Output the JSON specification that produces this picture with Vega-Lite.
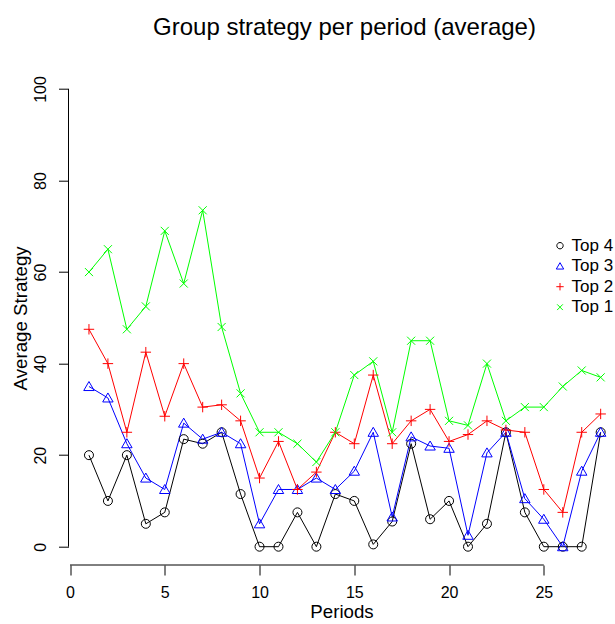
{
  "$schema": "https://vega.github.io/schema/vega-lite/v6.json",
  "autosize": {"type": "none"},
  "padding": {"left": 68.5, "top": 70.7, "right": 0, "bottom": 59},
  "width": 546,
  "height": 494.3,
  "background": "white",
  "title": {
    "text": "Group strategy per period (average)",
    "font": "Liberation Sans",
    "fontSize": 24,
    "fontWeight": "normal",
    "color": "black",
    "anchor": "middle",
    "frame": "group",
    "baseline": "alphabetic",
    "offset": 12,
    "dx": 3
  },
  "config": {
    "view": {"stroke": null},
    "font": "Liberation Sans",
    "legend": {"labelFontSize": 17, "labelFont": "Liberation Sans", "labelColor": "black"}
  },
  "datasets": {
    "strategy": [
      {"period": 1, "group": "Top 4", "value": 20},
      {"period": 2, "group": "Top 4", "value": 10},
      {"period": 3, "group": "Top 4", "value": 20},
      {"period": 4, "group": "Top 4", "value": 5},
      {"period": 5, "group": "Top 4", "value": 7.5},
      {"period": 6, "group": "Top 4", "value": 23.5},
      {"period": 7, "group": "Top 4", "value": 22.5},
      {"period": 8, "group": "Top 4", "value": 25},
      {"period": 9, "group": "Top 4", "value": 11.5},
      {"period": 10, "group": "Top 4", "value": 0},
      {"period": 11, "group": "Top 4", "value": 0},
      {"period": 12, "group": "Top 4", "value": 7.5},
      {"period": 13, "group": "Top 4", "value": 0},
      {"period": 14, "group": "Top 4", "value": 11.5},
      {"period": 15, "group": "Top 4", "value": 10},
      {"period": 16, "group": "Top 4", "value": 0.5},
      {"period": 17, "group": "Top 4", "value": 5.5},
      {"period": 18, "group": "Top 4", "value": 22.5},
      {"period": 19, "group": "Top 4", "value": 6},
      {"period": 20, "group": "Top 4", "value": 10},
      {"period": 21, "group": "Top 4", "value": 0},
      {"period": 22, "group": "Top 4", "value": 5},
      {"period": 23, "group": "Top 4", "value": 25},
      {"period": 24, "group": "Top 4", "value": 7.5},
      {"period": 25, "group": "Top 4", "value": 0},
      {"period": 26, "group": "Top 4", "value": 0},
      {"period": 27, "group": "Top 4", "value": 0},
      {"period": 28, "group": "Top 4", "value": 25},
      {"period": 1, "group": "Top 3", "value": 35},
      {"period": 2, "group": "Top 3", "value": 32.5},
      {"period": 3, "group": "Top 3", "value": 22.5},
      {"period": 4, "group": "Top 3", "value": 15},
      {"period": 5, "group": "Top 3", "value": 12.5},
      {"period": 6, "group": "Top 3", "value": 27},
      {"period": 7, "group": "Top 3", "value": 23.5},
      {"period": 8, "group": "Top 3", "value": 25},
      {"period": 9, "group": "Top 3", "value": 22.5},
      {"period": 10, "group": "Top 3", "value": 5},
      {"period": 11, "group": "Top 3", "value": 12.5},
      {"period": 12, "group": "Top 3", "value": 12.5},
      {"period": 13, "group": "Top 3", "value": 15},
      {"period": 14, "group": "Top 3", "value": 12.5},
      {"period": 15, "group": "Top 3", "value": 16.5},
      {"period": 16, "group": "Top 3", "value": 25},
      {"period": 17, "group": "Top 3", "value": 6.5},
      {"period": 18, "group": "Top 3", "value": 24},
      {"period": 19, "group": "Top 3", "value": 22},
      {"period": 20, "group": "Top 3", "value": 21.5},
      {"period": 21, "group": "Top 3", "value": 2.5},
      {"period": 22, "group": "Top 3", "value": 20.5},
      {"period": 23, "group": "Top 3", "value": 25},
      {"period": 24, "group": "Top 3", "value": 10.5},
      {"period": 25, "group": "Top 3", "value": 6},
      {"period": 26, "group": "Top 3", "value": 0},
      {"period": 27, "group": "Top 3", "value": 16.5},
      {"period": 28, "group": "Top 3", "value": 25},
      {"period": 1, "group": "Top 2", "value": 47.5},
      {"period": 2, "group": "Top 2", "value": 40},
      {"period": 3, "group": "Top 2", "value": 25},
      {"period": 4, "group": "Top 2", "value": 42.5},
      {"period": 5, "group": "Top 2", "value": 28.5},
      {"period": 6, "group": "Top 2", "value": 40},
      {"period": 7, "group": "Top 2", "value": 30.5},
      {"period": 8, "group": "Top 2", "value": 31},
      {"period": 9, "group": "Top 2", "value": 27.5},
      {"period": 10, "group": "Top 2", "value": 15},
      {"period": 11, "group": "Top 2", "value": 23},
      {"period": 12, "group": "Top 2", "value": 12.5},
      {"period": 13, "group": "Top 2", "value": 16.3},
      {"period": 14, "group": "Top 2", "value": 25},
      {"period": 15, "group": "Top 2", "value": 22.5},
      {"period": 16, "group": "Top 2", "value": 37.5},
      {"period": 17, "group": "Top 2", "value": 22.5},
      {"period": 18, "group": "Top 2", "value": 27.5},
      {"period": 19, "group": "Top 2", "value": 30},
      {"period": 20, "group": "Top 2", "value": 23},
      {"period": 21, "group": "Top 2", "value": 24.5},
      {"period": 22, "group": "Top 2", "value": 27.5},
      {"period": 23, "group": "Top 2", "value": 25.5},
      {"period": 24, "group": "Top 2", "value": 25},
      {"period": 25, "group": "Top 2", "value": 12.5},
      {"period": 26, "group": "Top 2", "value": 7.5},
      {"period": 27, "group": "Top 2", "value": 25},
      {"period": 28, "group": "Top 2", "value": 29},
      {"period": 1, "group": "Top 1", "value": 60},
      {"period": 2, "group": "Top 1", "value": 65},
      {"period": 3, "group": "Top 1", "value": 47.5},
      {"period": 4, "group": "Top 1", "value": 52.5},
      {"period": 5, "group": "Top 1", "value": 69},
      {"period": 6, "group": "Top 1", "value": 57.5},
      {"period": 7, "group": "Top 1", "value": 73.5},
      {"period": 8, "group": "Top 1", "value": 48},
      {"period": 9, "group": "Top 1", "value": 33.5},
      {"period": 10, "group": "Top 1", "value": 25},
      {"period": 11, "group": "Top 1", "value": 25},
      {"period": 12, "group": "Top 1", "value": 22.5},
      {"period": 13, "group": "Top 1", "value": 18.5},
      {"period": 14, "group": "Top 1", "value": 25},
      {"period": 15, "group": "Top 1", "value": 37.5},
      {"period": 16, "group": "Top 1", "value": 40.5},
      {"period": 17, "group": "Top 1", "value": 25},
      {"period": 18, "group": "Top 1", "value": 45},
      {"period": 19, "group": "Top 1", "value": 45},
      {"period": 20, "group": "Top 1", "value": 27.5},
      {"period": 21, "group": "Top 1", "value": 26.5},
      {"period": 22, "group": "Top 1", "value": 40},
      {"period": 23, "group": "Top 1", "value": 27.5},
      {"period": 24, "group": "Top 1", "value": 30.5},
      {"period": 25, "group": "Top 1", "value": 30.5},
      {"period": 26, "group": "Top 1", "value": 35},
      {"period": 27, "group": "Top 1", "value": 38.5},
      {"period": 28, "group": "Top 1", "value": 37}
    ]
  },
  "layer": [
    {
      "data": {"name": "strategy"},
      "mark": {"type": "line", "strokeWidth": 1, "clip": false},
      "encoding": {
        "x": {
          "field": "period", "type": "quantitative",
          "scale": {"domain": [-0.08, 28.73], "nice": false, "zero": false},
          "axis": {
            "values": [0, 5, 10, 15, 20, 25],
            "grid": false, "domain": false,
            "tickSize": 10, "tickColor": "black", "tickWidth": 1,
            "labelFont": "Liberation Sans", "labelFontSize": 16, "labelColor": "black",
            "labelPadding": 9, "labelFlush": false, "labelOverlap": false,
            "title": "Periods",
            "titleFont": "Liberation Sans", "titleFontSize": 18.7, "titleFontWeight": "normal",
            "titleColor": "black", "titlePadding": 2
          }
        },
        "y": {
          "field": "value", "type": "quantitative",
          "scale": {"domain": [-4, 104], "nice": false, "zero": false},
          "axis": {
            "values": [0, 20, 40, 60, 80, 100],
            "grid": false, "domain": false,
            "tickSize": 10, "tickColor": "black", "tickWidth": 1,
            "labelFont": "Liberation Sans", "labelFontSize": 16, "labelColor": "black",
            "labelAngle": 270, "labelAlign": "center", "labelBaseline": "alphabetic",
            "labelPadding": 13, "labelFlush": false, "labelOverlap": false,
            "title": "Average Strategy",
            "titleFont": "Liberation Sans", "titleFontSize": 18.7, "titleFontWeight": "normal",
            "titleColor": "black", "titlePadding": 2
          }
        },
        "color": {
          "field": "group", "type": "nominal",
          "scale": {"domain": ["Top 4", "Top 3", "Top 2", "Top 1"], "range": ["#000000", "#0000FF", "#FF0000", "#00FF00"]}
        },
        "detail": {"field": "group"}
      }
    },
    {
      "data": {"name": "strategy"},
      "mark": {"type": "point", "filled": false, "strokeWidth": 1, "size": 90, "opacity": 1, "clip": false},
      "encoding": {
        "x": {"field": "period", "type": "quantitative"},
        "y": {"field": "value", "type": "quantitative"},
        "color": {
          "field": "group", "type": "nominal",
          "legend": {
            "title": null,
            "orient": "none",
            "legendX": 483,
            "legendY": 166.5,
            "padding": 0,
            "labelFont": "Liberation Sans",
            "labelFontSize": 17,
            "labelColor": "black",
            "labelOffset": 3,
            "rowPadding": 2.5,
            "symbolSize": 45,
            "symbolStrokeWidth": 1
          }
        },
        "shape": {
          "field": "group", "type": "nominal",
          "scale": {
            "domain": ["Top 4", "Top 3", "Top 2", "Top 1"],
            "range": [
              "M0.95,0A0.95,0.95 0 1,1 -0.95,0A0.95,0.95 0 1,1 0.95,0Z",
              "M0,-1.05L1.1,0.85L-1.1,0.85Z",
              "M-1.1,0L1.1,0M0,-1.1L0,1.1",
              "M-0.85,-0.85L0.85,0.85M-0.85,0.85L0.85,-0.85"
            ]
          },
          "legend": {
            "title": null,
            "orient": "none",
            "legendX": 483,
            "legendY": 166.5,
            "padding": 0,
            "labelFont": "Liberation Sans",
            "labelFontSize": 17,
            "labelColor": "black",
            "labelOffset": 3,
            "rowPadding": 2.5,
            "symbolSize": 45,
            "symbolStrokeWidth": 1
          }
        }
      }
    },
    {
      "data": {"values": [{"from": 0, "to": 25, "at": -4}]},
      "mark": {"type": "rule", "color": "black", "strokeWidth": 1, "clip": false},
      "encoding": {
        "x": {"field": "from", "type": "quantitative"},
        "x2": {"field": "to"},
        "y": {"field": "at", "type": "quantitative"}
      }
    },
    {
      "data": {"values": [{"from": 0, "to": 100, "at": -0.08}]},
      "mark": {"type": "rule", "color": "black", "strokeWidth": 1, "clip": false},
      "encoding": {
        "y": {"field": "from", "type": "quantitative"},
        "y2": {"field": "to"},
        "x": {"field": "at", "type": "quantitative"}
      }
    }
  ]
}
